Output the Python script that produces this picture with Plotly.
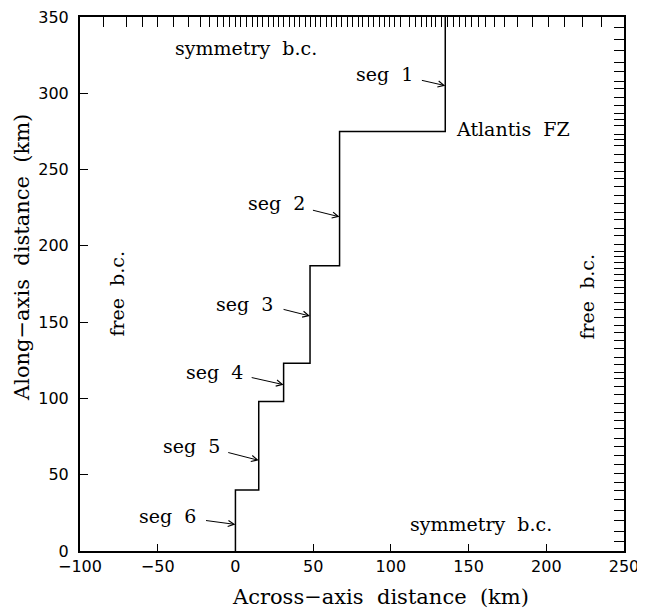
import plotly.graph_objects as go

# Step (ridge segment) geometry
seg_x = [0, 15, 31, 48, 67, 135, 135]
seg_y = [0, 40, 98, 123, 187, 275, 350]

# Mesh ticks on top and right boundaries
top_ticks = [-84.7, -69.9, -59.6, -50, -39.9, -30.2, -22.5, -16.7, -11.8, -7.7, -3.9, 0,
             3.2, 7, 10.7, 14.1, 17.4, 21, 24.5, 28, 31, 34.5, 38, 41.5, 45, 48, 51.5, 55,
             58.5, 62, 65, 68.5, 72, 75.5, 79, 82, 85.5, 89, 92.5, 96, 99, 102.5, 106, 112,
             116, 119.5, 123, 126, 129, 132.6, 136.5, 140.3, 144, 147.9, 151.9, 156.3, 161.2,
             167, 173.4, 181.5, 191.2, 201.5, 211.6, 223.4, 235.2]
right_ticks = [343, 335, 328, 320, 314, 308, 303, 297, 292, 287, 283, 279, 273, 270, 265.5,
               260, 254.5, 249, 244, 239, 233, 227.5, 222, 217, 211.5, 206.5, 201, 196, 193,
               189, 185, 181, 177, 173, 168.5, 163, 158, 153, 148, 143, 138, 132.5, 127, 122.5,
               117, 113, 108, 102.5, 97, 91, 85.5, 80, 74, 68.5, 62.5, 56.5, 51, 45, 39.5,
               33.5, 26.5, 20, 12.5, 6]

x_ticks = [-100, -50, 0, 50, 100, 150, 200, 250]
y_ticks = [0, 50, 100, 150, 200, 250, 300, 350]

# Segment labels
seg_labels = ["seg\u00a0\u00a01", "seg\u00a0\u00a02", "seg\u00a0\u00a03",
              "seg\u00a0\u00a04", "seg\u00a0\u00a05", "seg\u00a0\u00a06"]
seg_text_x = [95.6, 26.4, 6.1, -13.5, -28, -43.4]
seg_text_y = [312.6, 228.2, 162.1, 117.6, 68.5, 22.7]
seg_tail_x = [119, 48.9, 30, 9.5, -5.6, -19.9]
seg_tail_y = [308.7, 223.6, 158.6, 113.9, 64.8, 20.1]
seg_tip_x = [135, 67, 48, 31, 15, 0]
seg_tip_y = [305, 219, 154, 109, 59.4, 17.4]

serif = "DejaVu Serif"
sans = "DejaVu Sans"

fig = go.Figure()
fig.add_trace(go.Scatter(x=seg_x, y=seg_y, mode="lines", line_shape="vh",
                         line=dict(color="black", width=1.5), showlegend=False,
                         hoverinfo="skip"))
fig.add_trace(go.Scatter(x=[None], y=[None], xaxis="x2", yaxis="y2", showlegend=False))

annotations = []
for lab, tx, ty, ax_, ay_, px, py in zip(seg_labels, seg_text_x, seg_text_y,
                                          seg_tail_x, seg_tail_y, seg_tip_x, seg_tip_y):
    annotations.append(dict(x=tx, y=ty, xref="x", yref="y", text=lab, showarrow=False,
                            font=dict(family=serif, size=19, color="black")))
    annotations.append(dict(x=px, y=py, xref="x", yref="y", ax=ax_, ay=ay_, axref="x",
                            ayref="y", text="", showarrow=True, arrowhead=5,
                            arrowsize=1.2, arrowwidth=1, arrowcolor="black"))

other = [
    ("symmetry\u00a0\u00a0b.c.", 7, 329.6, 0),
    ("Atlantis\u00a0\u00a0FZ", 178.8, 276.6, 0),
    ("free\u00a0\u00a0b.c.", -75.9, 169, -90),
    ("free\u00a0\u00a0b.c.", 226.4, 167, -90),
    ("symmetry\u00a0\u00a0b.c.", 158.2, 17.5, 0),
]
for t, x, y, ang in other:
    annotations.append(dict(x=x, y=y, xref="x", yref="y", text=t, showarrow=False,
                            textangle=ang, font=dict(family=serif, size=19, color="black")))

# Axis titles (paper coordinates; margins do not auto-expand)
annotations.append(dict(x=0.5515, y=-0.0861, xref="paper", yref="paper",
                        xanchor="center", yanchor="middle",
                        text="Across\u2212axis\u00a0\u00a0distance\u00a0\u00a0(km)",
                        showarrow=False, font=dict(family=serif, size=21, color="black")))
annotations.append(dict(x=-0.1066, y=0.5487, xref="paper", yref="paper",
                        xanchor="center", yanchor="middle",
                        text="Along\u2212axis\u00a0\u00a0distance\u00a0\u00a0(km)",
                        showarrow=False, textangle=-90,
                        font=dict(family=serif, size=21, color="black")))

axis_common = dict(showgrid=False, zeroline=False, color="black", linecolor="black",
                   linewidth=2, tickcolor="black", tickwidth=1, automargin=False,
                   ticklabeloverflow="allow")

# page body adds an 8px offset; margins compensate so the plot area lands at 80..624 x 17..551
fig.update_layout(
    width=645, height=610,
    margin=dict(l=72, r=29, t=9, b=67, autoexpand=False),
    plot_bgcolor="white", paper_bgcolor="white",
    xaxis=dict(range=[-100, 250], tickvals=x_ticks,
               ticktext=[str(v).replace("-", "\u2212") for v in x_ticks],
               ticks="inside", ticklen=7, showline=True, mirror=True,
               tickfont=dict(family=sans, size=16, color="black"), **axis_common),
    yaxis=dict(range=[0, 350], tickvals=y_ticks, ticks="inside", ticklen=8,
               showline=True, mirror=True, ticklabelstandoff=6,
               tickfont=dict(family=sans, size=16, color="black"), **axis_common),
    xaxis2=dict(range=[-100, 250], overlaying="x", side="top", tickvals=top_ticks,
                ticks="inside", ticklen=10, showticklabels=False, showline=False,
                anchor="y", **axis_common),
    yaxis2=dict(range=[0, 350], overlaying="y", side="right", tickvals=right_ticks,
                ticks="inside", ticklen=10, showticklabels=False, showline=False,
                anchor="x", **axis_common),
    annotations=annotations,
)

fig.write_html("out.html")
